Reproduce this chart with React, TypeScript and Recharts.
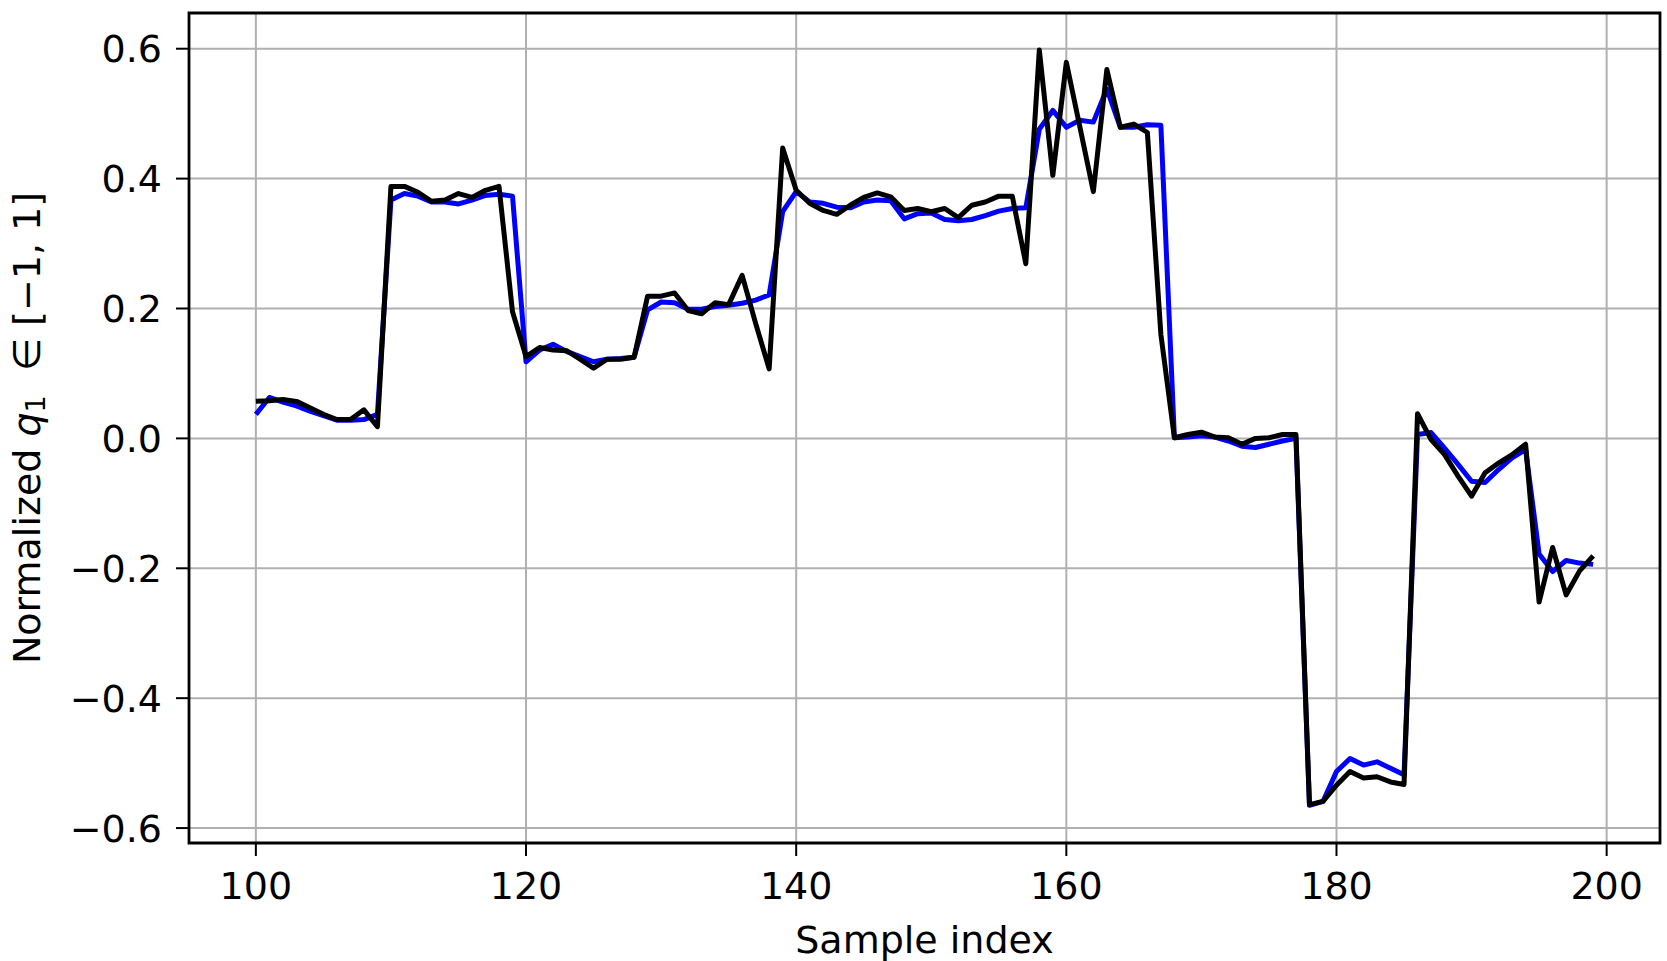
import React from 'react';
import { LineChart, Line, XAxis, YAxis, CartesianGrid, ReferenceArea } from 'recharts';

// sample 100 .. 199
const FIRST_SAMPLE = 100;

const blueValues = [
  0.037, 0.063, 0.056, 0.05, 0.042, 0.035, 0.028, 0.028, 0.029, 0.037,
  0.367, 0.377, 0.373, 0.364, 0.364, 0.361, 0.367, 0.374, 0.376, 0.373,
  0.118, 0.136, 0.145, 0.134, 0.126, 0.118, 0.122, 0.123, 0.125, 0.198,
  0.21, 0.209, 0.199, 0.199, 0.203, 0.205, 0.208, 0.213, 0.221, 0.349,
  0.38, 0.364, 0.362, 0.356, 0.355, 0.364, 0.367, 0.366, 0.338, 0.346,
  0.347, 0.337, 0.335, 0.337, 0.343, 0.35, 0.354, 0.355, 0.476, 0.505,
  0.479, 0.49, 0.487, 0.538, 0.479, 0.479, 0.483, 0.482, 0.001, 0.002,
  0.004, 0.002, -0.004, -0.012, -0.014, -0.009, -0.004, 0.0, -0.565, -0.559,
  -0.513, -0.493, -0.503, -0.498, -0.508, -0.518, 0.006, 0.009, -0.015, -0.04,
  -0.066, -0.068, -0.048, -0.03, -0.017, -0.178, -0.205, -0.188, -0.192, -0.194,
];

const blackValues = [
  0.057, 0.058, 0.06, 0.057, 0.047, 0.037, 0.029, 0.029, 0.044, 0.018,
  0.388, 0.388, 0.379, 0.365, 0.367, 0.377, 0.371, 0.382, 0.388, 0.195,
  0.126, 0.14, 0.136, 0.135, 0.122, 0.108, 0.122, 0.122, 0.125, 0.219,
  0.219, 0.224, 0.197, 0.192, 0.209, 0.206, 0.251, 0.177, 0.107, 0.447,
  0.382, 0.362, 0.351, 0.345, 0.359, 0.371, 0.378, 0.372, 0.351, 0.354,
  0.349, 0.354, 0.34, 0.359, 0.364, 0.373, 0.373, 0.269, 0.598, 0.405,
  0.579, 0.48, 0.38, 0.568, 0.479, 0.484, 0.471, 0.16, 0.001, 0.006,
  0.0095, 0.002, 0.001, -0.009, 0.0, 0.001, 0.006, 0.006, -0.564, -0.559,
  -0.534, -0.513, -0.523, -0.521, -0.529, -0.533, 0.038, -0.002, -0.025, -0.058,
  -0.089, -0.053, -0.038, -0.025, -0.009, -0.252, -0.168, -0.241, -0.204, -0.181,
];

const xTicks = [100, 120, 140, 160, 180, 200];
const yTicks = [-0.6, -0.4, -0.2, 0, 0.2, 0.4, 0.6];
const xDomain = [95.05, 203.95];
const yDomain = [-0.623, 0.655];

const data = blueValues.map((v, i) => ({
  sample: FIRST_SAMPLE + i,
  blue: v,
  black: blackValues[i],
}));

const FONT = '"DejaVu Sans", sans-serif';
const FONT_SIZE = 38;

const fmtY = (v: number) => (v < 0 ? '\u2212' : '') + Math.abs(v).toFixed(1);

const XLabel = ({ viewBox }: any) => (
  <text
    x={viewBox.x + viewBox.width / 2}
    y={viewBox.y + 110}
    textAnchor="middle"
    fontFamily={FONT}
    fontSize={FONT_SIZE}
    fill="#000"
  >
    Sample index
  </text>
);

const YLabel = ({ viewBox }: any) => {
  const cx = 27;
  const cy = viewBox.y + viewBox.height / 2;
  return (
    <text
      transform={`translate(${cx},${cy}) rotate(-90)`}
      textAnchor="middle"
      dominantBaseline="central"
      fontFamily={FONT}
      fontSize={FONT_SIZE}
      fill="#000"
    >
      {'Normalized\u00A0'}
      <tspan fontStyle="italic">q</tspan>
      <tspan fontSize={27} dy={8}>1</tspan>
      <tspan dy={-8}>{'\u00A0\u00A0\u2208\u00A0[\u22121,\u00A01]'}</tspan>
    </text>
  );
};

const App = () => {
  const tickStyle = { fill: '#000', fontSize: FONT_SIZE, fontFamily: FONT };
  return (
    <div style={{ position: 'absolute', left: 0, top: 0, background: '#fff' }}>
      <LineChart
        width={1667}
        height={961}
        data={data}
        margin={{ top: 13, right: 7, bottom: 0, left: 0 }}
      >
        <CartesianGrid stroke="#b0b0b0" strokeWidth={2} />
        <XAxis
          dataKey="sample"
          type="number"
          domain={xDomain}
          ticks={xTicks}
          allowDataOverflow
          height={118}
          tick={tickStyle}
          tickSize={13}
          tickMargin={16}
          tickLine={{ stroke: '#000', strokeWidth: 2 }}
          axisLine={false}
          label={<XLabel />}
        />
        <YAxis
          type="number"
          domain={yDomain}
          ticks={yTicks}
          allowDataOverflow
          width={189}
          tick={tickStyle}
          tickFormatter={fmtY}
          tickSize={13}
          tickMargin={14}
          tickLine={{ stroke: '#000', strokeWidth: 2 }}
          axisLine={false}
          label={<YLabel />}
        />
        <Line
          type="linear"
          dataKey="blue"
          stroke="#0000ff"
          strokeWidth={5}
          strokeLinejoin="round"
          dot={false}
          isAnimationActive={false}
        />
        <Line
          type="linear"
          dataKey="black"
          stroke="#000000"
          strokeWidth={5}
          strokeLinejoin="round"
          dot={false}
          isAnimationActive={false}
        />
        {/* axes frame */}
        <ReferenceArea
          x1={xDomain[0]}
          x2={xDomain[1]}
          y1={yDomain[0]}
          y2={yDomain[1]}
          fill="none"
          fillOpacity={0}
          stroke="#000"
          strokeWidth={2.8}
          ifOverflow="visible"
        />
      </LineChart>
    </div>
  );
};

export default App;
